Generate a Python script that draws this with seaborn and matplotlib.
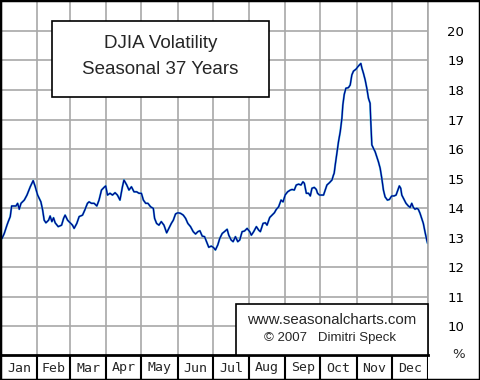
import numpy as np
import pandas as pd
import seaborn as sns
import matplotlib.pyplot as plt
from matplotlib.patches import Rectangle

# month labels and day-of-year month boundaries
months = ["Jan", "Feb", "Mar", "Apr", "May", "Jun",
          "Jul", "Aug", "Sep", "Oct", "Nov", "Dec"]
month_edges = [0, 31, 59, 90, 120, 151, 181, 212, 243, 273, 304, 334, 365]
y_ticks = list(range(10, 21))

day = [0.9, 2.8, 5.1, 6.2, 7.9, 9.1, 12.8, 14.2, 15.6, 17.1, 19.9, 22.2, 25.0, 27.5, 29.3,
       31.3, 34.1, 35.6, 36.9, 38.4, 40.7, 42.0, 43.5, 44.9, 46.3, 48.9, 51.8, 53.5, 54.8,
       56.9, 59.1, 61.1, 62.5, 64.8, 66.8, 69.7, 71.6, 73.9, 75.3, 77.3, 79.6, 81.9, 83.8,
       85.9, 88.1, 89.5, 91.0, 93.2, 95.3, 97.5, 99.5, 101.7, 103.8, 105.1, 107.5, 109.4,
       111.5, 113.7, 116.0, 117.9, 120.0, 121.7, 123.7, 125.6, 127.9, 130.2, 131.3, 133.0,
       135.0, 137.0, 139.3, 141.6, 143.5, 145.6, 147.3, 149.2, 151.2, 153.5, 155.8, 157.8,
       159.7, 162.0, 164.3, 166.3, 168.3, 170.0, 172.0, 174.0, 175.7, 177.6, 179.7, 181.4,
       183.3, 185.3, 187.0, 189.1, 191.0, 193.3, 194.7, 196.7, 198.4, 200.4, 202.4, 204.1,
       206.1, 208.1, 210.4, 212.6, 214.0, 216.0, 218.3, 220.3, 221.7, 224.0, 226.0, 227.4,
       229.7, 231.7, 233.7, 235.4, 237.3, 239.4, 241.1, 243.0, 245.0, 247.3, 248.8, 250.7,
       252.4, 254.4, 256.4, 258.1, 259.3, 261.0, 262.9, 264.4, 265.8, 267.8, 269.5, 270.6,
       272.3, 274.3, 275.7, 277.2, 278.6, 280.8, 282.9, 284.2, 284.8, 285.7, 287.1, 288.5,
       290.0, 291.4, 292.2, 293.4, 294.8, 297.0, 298.5, 299.9, 301.3, 303.6, 305.0, 306.4,
       307.6, 308.5, 309.8, 311.3, 312.7, 314.1, 315.5, 316.1, 317.0, 318.4, 319.8, 321.2,
       322.6, 324.1, 325.5, 326.9, 328.3, 330.3, 332.0, 334.0, 336.0, 337.7, 339.2, 340.5,
       341.7, 342.6, 344.5, 346.2, 348.2, 349.7, 351.1, 352.5, 353.9, 355.4, 356.7, 358.2,
       359.6, 361.0, 362.4, 363.9, 364.7]
vola = [12.97, 13.14, 13.42, 13.54, 13.71, 14.07, 14.07, 14.16, 13.96, 14.16, 14.27, 14.44,
        14.72, 14.93, 14.72, 14.44, 14.21, 13.93, 13.59, 13.50, 13.59, 13.73, 13.54, 13.67,
        13.50, 13.37, 13.42, 13.65, 13.76, 13.59, 13.50, 13.42, 13.31,
        13.48, 13.71, 13.76, 13.93, 14.16, 14.21, 14.16, 14.16, 14.07, 14.27, 14.61, 14.70,
        14.75, 14.44, 14.50, 14.44, 14.52, 14.44, 14.27, 14.72, 14.95, 14.78, 14.61, 14.72,
        14.55, 14.55, 14.50, 14.50,
        14.27, 14.16, 14.16, 14.04, 13.99, 13.65, 13.48, 13.42, 13.54, 13.42, 13.16, 13.31,
        13.48, 13.59, 13.80, 13.84, 13.82, 13.76, 13.65, 13.48, 13.37, 13.20, 13.12, 13.20,
        13.23, 13.05, 13.03, 12.86, 12.67, 12.71, 12.67, 12.58,
        12.75, 12.97, 13.14, 13.20, 13.28, 13.08, 12.92, 12.86, 13.03, 12.86, 12.92, 13.20,
        13.22, 13.31, 13.20, 13.08, 13.20, 13.37, 13.25, 13.20, 13.48, 13.50, 13.42, 13.68,
        13.76, 13.84, 13.96, 14.04, 14.27, 14.21,
        14.45, 14.55, 14.61, 14.63, 14.61, 14.78, 14.81, 14.78, 14.89, 14.84, 14.50, 14.50,
        14.41, 14.67, 14.70, 14.63, 14.50, 14.44, 14.44, 14.44, 14.61, 14.78, 14.86, 14.95,
        15.12,
        15.18, 15.46, 15.85, 16.25, 16.59, 17.04, 17.49, 17.85, 18.06, 18.08, 18.17, 18.51,
        18.64, 18.71, 18.79, 18.85, 18.90, 18.74, 18.57, 18.34, 18.06, 17.72, 17.55, 16.93,
        16.14, 16.02, 15.91, 15.74, 15.57, 15.35, 15.01,
        14.61, 14.38, 14.27, 14.29, 14.41, 14.41, 14.44, 14.61, 14.75, 14.67, 14.44, 14.29,
        14.16, 14.07, 14.02, 14.16, 14.02, 13.96, 13.99, 13.96, 13.82, 13.65, 13.48, 13.20,
        12.92, 12.80]

df = pd.DataFrame({"day": day, "vola": vola})

sns.set_style("white")
plt.rcParams['font.family'] = ['Liberation Sans', 'DejaVu Sans']

W, H = 480, 380
fig = plt.figure(figsize=(4.8, 3.8), dpi=100)
ax = fig.add_axes([1 / W, 25 / H, 427 / W, 355 / H])

sns.lineplot(data=df, x="day", y="vola", ax=ax, color="#40c0e0", lw=1.5)
sns.lineplot(data=df, x="day", y="vola", ax=ax, color="#00008c", lw=0.9)

ax.set_xlim(0, 365)
ax.set_ylim(9.02, 21.05)
ax.set_xticks(month_edges)
ax.set_yticks(y_ticks)
ax.grid(True, color="#a8a8a8", lw=1.2)
ax.set_xlabel("")
ax.set_ylabel("")
ax.yaxis.tick_right()
ax.tick_params(axis="x", length=0, labelbottom=False)
ax.tick_params(axis="y", length=0, pad=14, labelsize=9.5, labelcolor="black")
for lab in ax.get_yticklabels():
    lab.set_family("DejaVu Sans")
ax.spines["top"].set_visible(False)
ax.spines["left"].set_color("black")
ax.spines["left"].set_linewidth(1.5)
ax.spines["bottom"].set_color("black")
ax.spines["bottom"].set_linewidth(2)
ax.spines["right"].set_color("#a8a8a8")
ax.spines["right"].set_linewidth(1.2)

# month band below the plot
bx = fig.add_axes([1 / W, 0, 427 / W, 25 / H])
bx.set_xlim(0, 365)
bx.set_ylim(0, 1)
bx.axis("off")
for e in month_edges[1:]:
    bx.axvline(e, color="black", lw=1.5)
for i, m in enumerate(months):
    mid = (month_edges[i] + month_edges[i + 1]) / 2
    bx.text(mid, 0.48, m, ha="center", va="center", fontsize=9.5,
            family="DejaVu Sans Mono")

fig.text(459 / W, 1 - 354 / H, "%", ha="center", va="center", fontsize=9.5,
         family="DejaVu Sans")

# title box
fig.add_artist(Rectangle((52 / W, 1 - 97 / H), 217 / W, 76 / H, transform=fig.transFigure,
                         fc="white", ec="black", lw=1.2, zorder=2))
fig.text(160.5 / W, 1 - 43 / H, "DJIA Volatility", ha="center", va="center",
         fontsize=13.5, zorder=3)
fig.text(160.5 / W, 1 - 70 / H, "Seasonal 37 Years", ha="center", va="center",
         fontsize=13.5, zorder=3)

# source box
fig.add_artist(Rectangle((236 / W, 25 / H), 192 / W, 51 / H, transform=fig.transFigure,
                         fc="white", ec="black", lw=1.2, zorder=2))
fig.text(332 / W, 1 - 320 / H, "www.seasonalcharts.com", ha="center", va="center",
         fontsize=10.8, zorder=3)
fig.text(330 / W, 1 - 338 / H, "\u00a9 2007   Dimitri Speck", ha="center", va="center",
         fontsize=9.5, zorder=3)

# outer frame
fig.add_artist(Rectangle((0, 0), 1, 1, transform=fig.transFigure, fill=False,
                         ec="black", lw=2.5, zorder=5))

fig.savefig("out.png", dpi=100)
